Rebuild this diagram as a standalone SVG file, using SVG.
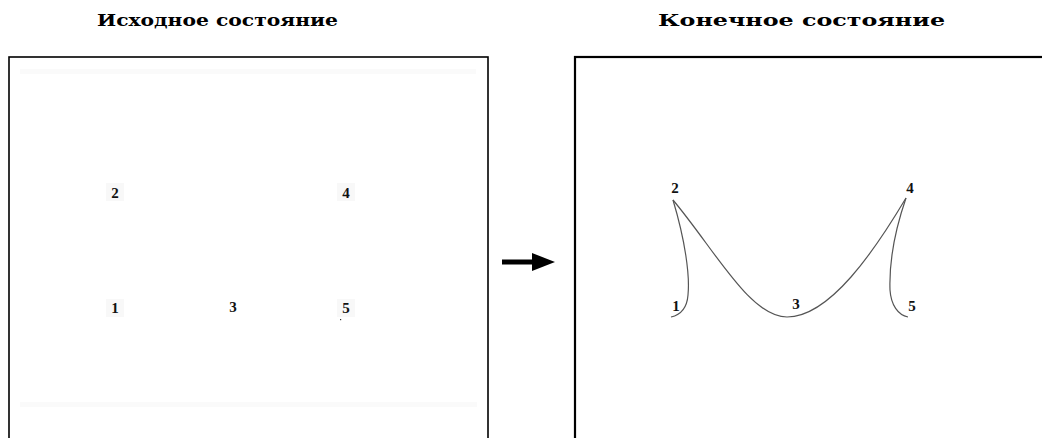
<svg xmlns="http://www.w3.org/2000/svg" width="1042" height="438" viewBox="0 0 1042 438">
<style>
.title{font-family:"DejaVu Serif","Liberation Serif",serif;font-weight:bold;font-size:16px;fill:#000}
.lbl{font-family:"Liberation Serif","DejaVu Serif",serif;font-weight:bold;font-size:15px;fill:#111;text-anchor:middle}
.box{fill:#fff;stroke:#000;stroke-width:1.6}
.band{fill:#fafafa}
.lblbg{fill:#f8f8f8}
.curve{fill:none;stroke:#555;stroke-width:1.2}
.arrowhead{fill:#000}
</style>
<rect width="1042" height="438" fill="#fff"/>
<text class="title" x="97" y="26" textLength="241" lengthAdjust="spacingAndGlyphs">Исходное состояние</text>
<text class="title" x="658" y="26" textLength="287" lengthAdjust="spacingAndGlyphs">Конечное состояние</text>
<g id="left-state">
<rect class="box" x="9" y="57" width="479" height="400"/>
<rect class="band" x="20" y="69" width="456" height="5"/>
<rect class="band" x="20" y="402" width="457" height="5"/>
<g id="l2"><rect class="lblbg" x="106" y="183" width="18" height="18"/><text class="lbl" x="115" y="198">2</text></g>
<g id="l4"><rect class="lblbg" x="337" y="183" width="18" height="18"/><text class="lbl" x="346" y="198">4</text></g>
<g id="l1"><rect class="lblbg" x="106" y="299" width="18" height="18"/><text class="lbl" x="115" y="313">1</text></g>
<g id="l3"><text class="lbl" x="233" y="312">3</text></g>
<g id="l5"><rect class="lblbg" x="337" y="299" width="18" height="18"/><text class="lbl" x="346" y="313">5</text><rect x="340" y="319" width="1.2" height="1.2" fill="#333"/></g>
</g>
<g id="connectors">
<line x1="502" y1="262" x2="535" y2="262" stroke="#000" stroke-width="5"/>
<polygon class="arrowhead" points="532,253 555,262 532,271"/>
<path id="c-hook1" class="curve" d="M673,200 C685,240 690,275 688,295 C687,308 680,315 671,317"/>
<path id="c-main" class="curve" d="M673,200 C715,250 750,317 787,317 C830,317 875,250 906,198"/>
<path id="c-hook5" class="curve" d="M906,198 C895,230 889,260 890,290 C891,305 898,315 908,317"/>
</g>
<g id="right-state">
<rect x="575" y="57" width="480" height="400" fill="none" stroke="#000" stroke-width="2.2"/>
<g id="r2"><text class="lbl" x="675" y="193">2</text></g>
<g id="r4"><text class="lbl" x="910" y="193">4</text></g>
<g id="r1"><text class="lbl" x="676" y="311">1</text></g>
<g id="r3"><text class="lbl" x="796" y="309">3</text></g>
<g id="r5"><text class="lbl" x="912" y="311">5</text></g>
</g>
</svg>
